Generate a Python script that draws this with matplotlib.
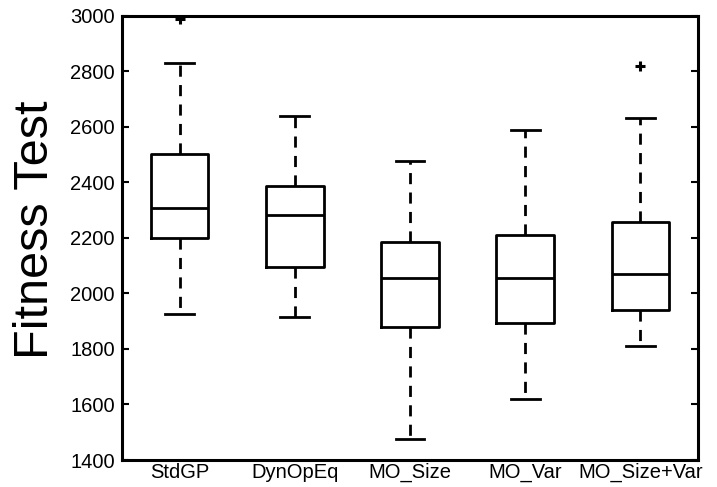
import matplotlib.pyplot as plt

plt.rcParams['font.family'] = ['Liberation Sans', 'DejaVu Sans']

# 방법별 상자그림 통계
labels = ["StdGP", "DynOpEq", "MO_Size", "MO_Var", "MO_Size+Var"]
whislo = [1925, 1914, 1474, 1618, 1810]
q1 = [2199, 2094, 1880, 1893, 1939]
med = [2306, 2282, 2054, 2054, 2069]
q3 = [2501, 2386, 2185, 2210, 2258]
whishi = [2830, 2639, 2476, 2589, 2632]
fliers = [[2986], [], [], [], [2819]]

stats = []
for i in range(len(labels)):
    stats.append({
        "label": labels[i],
        "whislo": whislo[i],
        "q1": q1[i],
        "med": med[i],
        "q3": q3[i],
        "whishi": whishi[i],
        "fliers": fliers[i],
    })

fig = plt.figure(figsize=(7.17, 4.87), dpi=100)
ax = fig.add_axes([0.170, 0.0554, 0.8035, 0.9126])

lw = 2.0
ax.bxp(stats, widths=0.5, showfliers=True,
       boxprops=dict(color="black", linewidth=lw),
       medianprops=dict(color="black", linewidth=lw),
       whiskerprops=dict(color="black", linewidth=lw, linestyle=(0, (4, 3))),
       capprops=dict(color="black", linewidth=lw),
       capwidths=0.25,
       flierprops=dict(marker="+", markeredgecolor="black", markersize=7,
                       markeredgewidth=2.2))

ax.set_xlim(0.5, 5.5)
ax.set_ylim(1400, 3000)
ax.set_yticks(range(1400, 3001, 200))
ax.tick_params(axis="y", direction="in", length=5, width=1.5, right=True,
               labelsize=14.5, pad=5)
ax.tick_params(axis="x", length=0, labelsize=14.5, pad=2)

for s in ax.spines.values():
    s.set_linewidth(2.2)

ax.set_ylabel("Fitness Test", fontsize=35)
ax.yaxis.set_label_coords(-0.111, 0.517)

plt.savefig("out.png", dpi=100)
